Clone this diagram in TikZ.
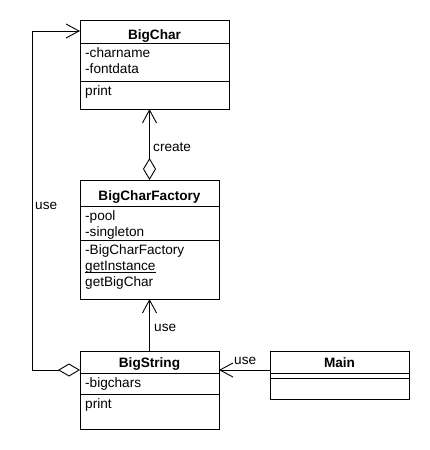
\documentclass[tikz,border=0pt]{standalone}
\usepackage{fontspec}
\setmainfont{Liberation Sans}
\usetikzlibrary{arrows.meta}
\tikzset{
  openv/.tip={Straight Barb[length=13pt,width=14pt]},
  odia/.tip={Diamond[open,length=22pt,width=13pt]},
}
\begin{document}
\begin{tikzpicture}[x=1pt,y=-1pt,
  box/.style={draw, line width=0.9pt, inner sep=0pt, outer sep=0pt, anchor=north west},
  sep/.style={line width=0.9pt},
  txt/.style={inner sep=0pt, anchor=base west, font=\fontsize{13.6}{16}\selectfont},
  hdr/.style={inner sep=0pt, anchor=base, font=\fontsize{13.6}{16}\selectfont\bfseries},
  conn/.style={line width=0.9pt},
  lbl/.style={inner sep=0pt, anchor=base west, font=\fontsize{13.6}{16}\selectfont}]
\fill[white] (0,0) rectangle (430,450);
\useasboundingbox (0,0) rectangle (430,450);

% BigChar
\node[box, minimum width=149pt, minimum height=89pt] (bigchar) at (80,20) {};
\draw[sep] ([yshift=-23pt]bigchar.north west) -- ([yshift=-23pt]bigchar.north east);
\draw[sep] ([yshift=-61pt]bigchar.north west) -- ([yshift=-61pt]bigchar.north east);
\node[hdr] (bch) at (154.5,39) {BigChar};
\node[txt] (bc1) at (85,57) {-charname};
\node[txt] (bc2) at (85,73) {-fontdata};
\node[txt] (bc3) at (85,95) {print};

% BigCharFactory
\node[box, minimum width=139pt, minimum height=119pt] (fac) at (80,180) {};
\draw[sep] ([yshift=-26pt]fac.north west) -- ([yshift=-26pt]fac.north east);
\draw[sep] ([yshift=-60pt]fac.north west) -- ([yshift=-60pt]fac.north east);
\node[hdr] (fch) at (149.5,200) {BigCharFactory};
\node[txt] (fc1) at (85,220) {-pool};
\node[txt] (fc2) at (85,236) {-singleton};
\node[txt] (fc3) at (85,254) {-BigCharFactory};
\node[txt] (fc4) at (85,270) {getInstance};
\draw[line width=0.8pt] ([yshift=-2pt]fc4.base west) -- ([yshift=-2pt]fc4.base east);
\node[txt] (fc5) at (85,286) {getBigChar};

% BigString
\node[box, minimum width=139pt, minimum height=78pt] (bs) at (80,351) {};
\draw[sep] ([yshift=-22pt]bs.north west) -- ([yshift=-22pt]bs.north east);
\draw[sep] ([yshift=-43pt]bs.north west) -- ([yshift=-43pt]bs.north east);
\node[hdr] (bsh) at (149.5,367) {BigString};
\node[txt] (bs1) at (85,387) {-bigchars};
\node[txt] (bs2) at (85,408) {print};

% Main
\node[box, minimum width=139pt, minimum height=48pt] (main) at (270,351) {};
\draw[sep] ([yshift=-22pt]main.north west) -- ([yshift=-22pt]main.north east);
\draw[sep] ([yshift=-27pt]main.north west) -- ([yshift=-27pt]main.north east);
\node[hdr] (mh) at (339.5,367) {Main};

% helper coordinates
\coordinate (ly) at (0,370);
\coordinate (lc1) at (32,370);
\coordinate (lc2) at (32,31);

% connectors
\draw[conn, {odia}-{openv}] (fac.north) -- (fac.north |- bigchar.south);
\draw[conn, -{openv}] (bs.north) -- (fac.south);
\draw[conn, -{openv}] (main.west |- ly) -- (bs.east |- ly);
\draw[conn, {odia}-{openv}] (bs.west |- ly) -- (lc1) -- (lc2) -- (bigchar.west |- lc2);

% labels
\node[lbl] (lcreate) at (153,151.5) {create};
\node[lbl] (luse1) at (154,331.5) {use};
\node[lbl] (luse2) at (234,364) {use};
\node[lbl] (luse3) at (35,209) {use};
\end{tikzpicture}
\end{document}
